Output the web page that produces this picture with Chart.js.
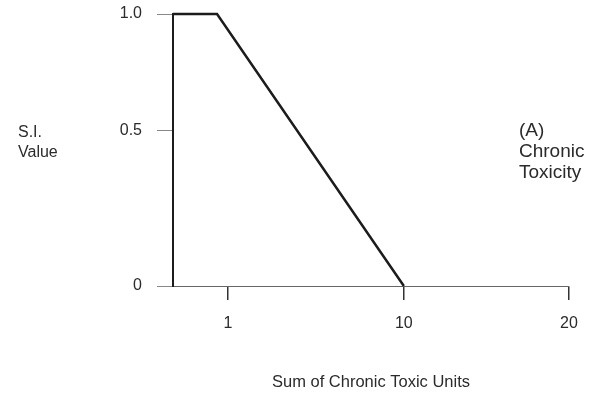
<!DOCTYPE html>
<html>
<head>
<meta charset="utf-8">
<script src="https://cdn.jsdelivr.net/npm/chart.js@4.4.1/dist/chart.umd.min.js"></script>
<style>
  body { margin: 0; background: #fff; }
  #wrap { width: 589px; height: 393px; }
</style>
</head>
<body>
<div id="wrap"><canvas id="siChart" width="589" height="393"></canvas></div>
<script>
// values
const xValues = [0, 0.8, 10];
const yValues = [1.0, 1.0, 0];
const xTicks = [1, 10, 20];
const xTickLabels = ['1', '10', '20'];
const yTicks = [0, 0.5, 1.0];
const yTickLabels = ['0', '0.5', '1.0'];

// the original axes are drawn schematically, not to a linear scale,
// so this scale maps values piece by piece between knots
class PiecewiseScale extends Chart.LinearScale {
    static id = 'piecewise';
    decimalFor(value) {
        const k = this.options.knots, s = this.options.stops;
        if (value <= k[0]) return s[0];
        for (let i = 1; i < k.length; i++) {
            if (value <= k[i]) {
                const t = (value - k[i - 1]) / (k[i] - k[i - 1]);
                return s[i - 1] + t * (s[i] - s[i - 1]);
            }
        }
        return s[s.length - 1];
    }
    getPixelForValue(value) {
        if (value === null || value === undefined) return NaN;
        return this.getPixelForDecimal(this.decimalFor(value));
    }
    getValueForPixel(pixel) {
        const d = this.getDecimalForPixel(pixel);
        const k = this.options.knots, s = this.options.stops;
        for (let i = 1; i < s.length; i++) {
            if (d <= s[i]) {
                const t = (d - s[i - 1]) / (s[i] - s[i - 1]);
                return k[i - 1] + t * (k[i] - k[i - 1]);
            }
        }
        return k[k.length - 1];
    }
}
Chart.register(PiecewiseScale);

const textColor = '#2b2b2b';
const font = 'Liberation Sans, Arial, Helvetica, sans-serif';

const sideText = {
    id: 'sideText',
    afterDraw(chart) {
        const c = chart.ctx;
        c.save();
        c.fillStyle = textColor;
        c.textBaseline = 'middle';
        c.textAlign = 'left';
        c.font = '16px ' + font;
        c.fillText('S.I.', 18, 133);
        c.fillText('Value', 18, 153);
        c.font = '19px ' + font;
        c.fillText('(A)', 519, 131);
        c.fillText('Chronic', 519, 152);
        c.fillText('Toxicity', 519, 173);
        c.textAlign = 'center';
        c.font = '16.5px ' + font;
        c.fillText('Sum of Chronic Toxic Units', 371, 382);
        c.restore();
    }
};

new Chart(document.getElementById('siChart'), {
    type: 'line',
    data: {
        datasets: [{
            data: xValues.map((x, i) => ({ x: x, y: yValues[i] })),
            borderColor: '#1c1c1c',
            borderWidth: 2.5,
            pointRadius: 0,
            tension: 0,
            clip: false
        }]
    },
    options: {
        responsive: false,
        animation: false,
        layout: { padding: { top: 14, right: 20, left: 0, bottom: 0 } },
        plugins: {
            legend: { display: false },
            tooltip: { enabled: false }
        },
        scales: {
            x: {
                type: 'piecewise',
                min: 0,
                max: 20,
                knots: [0, 1, 10, 20],
                stops: [0, 0.139, 0.583, 1],
                afterBuildTicks: s => { s.ticks = xTicks.map(v => ({ value: v })); },
                afterFit: s => { s.height = 107; s.paddingLeft = 0; s.paddingRight = 0; },
                ticks: {
                    autoSkip: false,
                    maxRotation: 0,
                    padding: 14,
                    color: textColor,
                    font: { family: font, size: 16 },
                    callback: (v, i) => xTickLabels[i]
                },
                grid: { drawOnChartArea: false, tickLength: 14, color: '#333', lineWidth: 1.5 },
                border: { color: '#666', width: 1 }
            },
            y: {
                type: 'piecewise',
                min: 0,
                max: 1,
                knots: [0, 0.5, 1],
                stops: [0, 0.57, 1],
                afterBuildTicks: s => { s.ticks = yTicks.map(v => ({ value: v })); },
                afterFit: s => { s.width = 173; s.paddingTop = 0; s.paddingBottom = 0; },
                ticks: {
                    autoSkip: false,
                    padding: 15,
                    color: textColor,
                    font: { family: font, size: 16 },
                    callback: (v, i) => yTickLabels[i]
                },
                grid: { drawOnChartArea: false, tickLength: 16, color: '#888', lineWidth: 1 },
                border: { color: '#1c1c1c', width: 2 }
            }
        }
    },
    plugins: [sideText]
});
</script>
</body>
</html>
